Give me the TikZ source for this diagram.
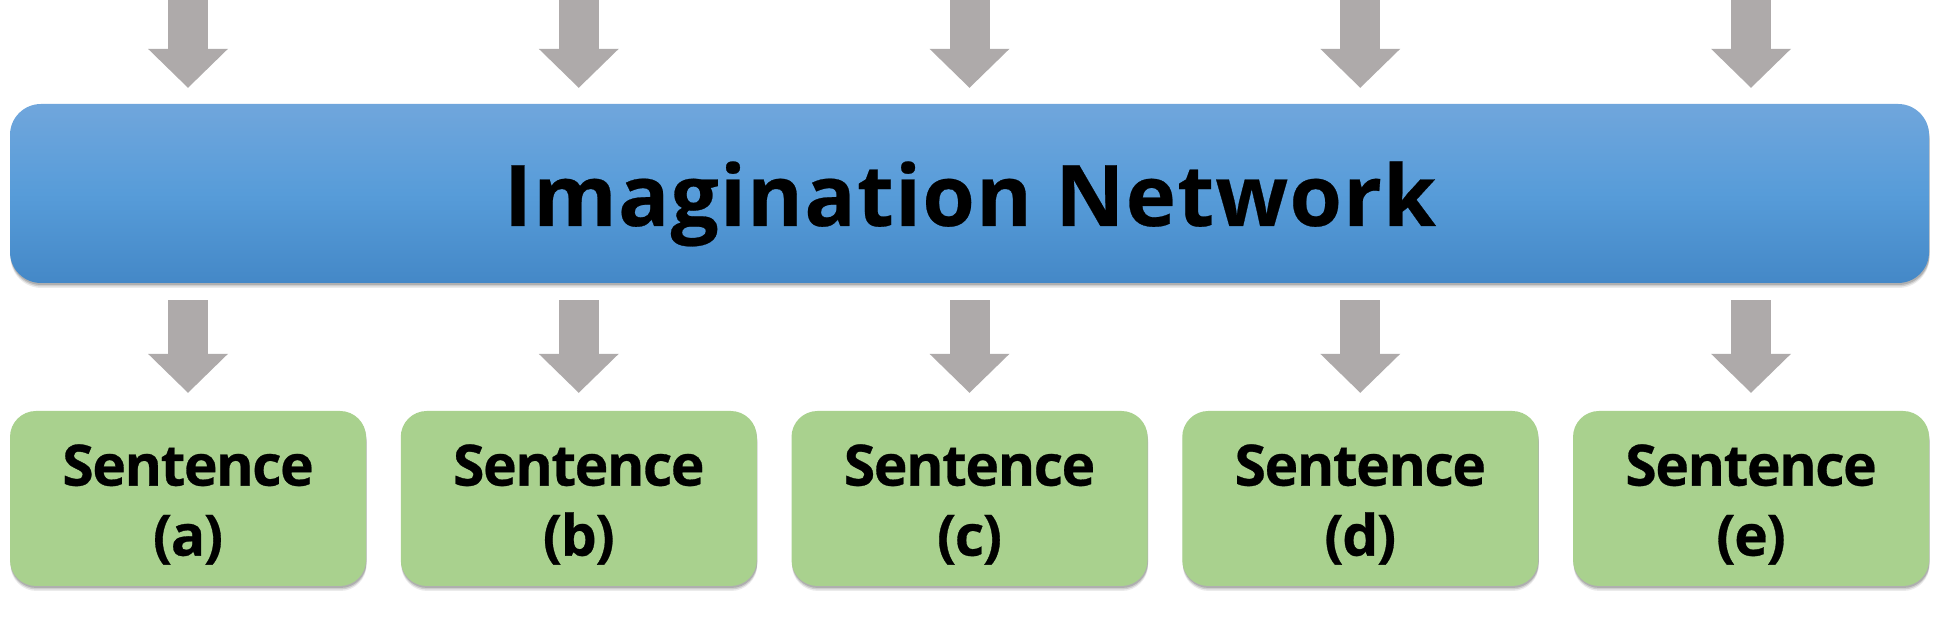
\documentclass[tikz,border=0pt]{standalone}
\usepackage{fontspec}
\setmainfont{Open Sans}
\newfontfamily\netfont[LetterSpace=1.5, BoldFeatures={FakeBold=0.3}]{Open Sans}
\newfontfamily\sentfont[LetterSpace=-2.5, BoldFeatures={FakeBold=0.5}]{Open Sans}
\usetikzlibrary{arrows.meta,shadows}
\definecolor{agray}{HTML}{AEAAAA}
\definecolor{bluetop}{HTML}{70A6DC}
\definecolor{bluemid}{HTML}{579CD9}
\definecolor{bluebot}{HTML}{4488C7}
\definecolor{sgreen}{HTML}{A9D18E}
\begin{document}
\begin{tikzpicture}[x=1pt,y=1pt,
  bigarrow/.style={draw=agray, line width=40pt,
    -{Triangle[width=80pt,length=39pt,line width=0pt]}},
  softshadow/.style={
    general shadow={shadow xshift=0.5pt, shadow yshift=-5pt, opacity=0.08, fill=black},
    general shadow={shadow xshift=0.5pt, shadow yshift=-3.5pt, opacity=0.12, fill=black},
    general shadow={shadow xshift=0.5pt, shadow yshift=-2pt, opacity=0.15, fill=black}},
  netbox/.style={rounded corners=31pt, minimum width=1919pt, minimum height=179pt,
    top color=bluetop, bottom color=bluebot, middle color=bluemid, draw=none,
    softshadow, inner sep=0pt},
  sbox/.style={rounded corners=26pt, minimum width=356pt, minimum height=175pt,
    fill=sgreen, draw=none, softshadow, inner sep=0pt},
  stext/.style={align=center, font=\sentfont\bfseries\fontsize{57}{70}\selectfont, inner sep=0pt},
  nettext/.style={anchor=base, inner sep=0pt, font=\netfont\bfseries\fontsize{85}{100}\selectfont}
]
\useasboundingbox (0,0) rectangle (1942,617);
\fill[white] (0,0) rectangle (1942,617);

\node[netbox] (net) at (969.5,423.5) {};
\node[nettext] (nett) at (970,391) {Imagination Network};

\foreach \n/\x/\l in {sa/188/a, sb/578.75/b, sc/969.5/c, sd/1360.25/d, se/1751/e}{
  \node[sbox] (\n) at (\x,118.5) {};
  \node[stext] (\n t) at ([yshift=-6pt]\n.center) {Sentence\\(\l)};
  \coordinate (\n in) at (\x,617);
  \draw[bigarrow] (\n in) -- ([yshift=16pt]\n in |- net.north);
  \draw[bigarrow] ([yshift=-17pt]\n.north |- net.south) -- ([yshift=18pt]\n.north);
}
\end{tikzpicture}
\end{document}
